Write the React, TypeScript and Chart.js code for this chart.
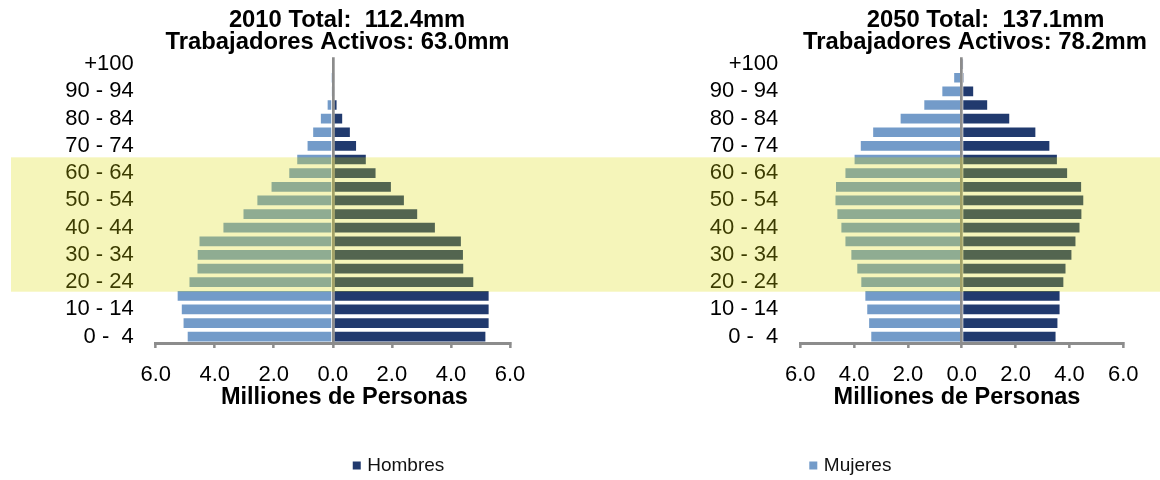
import { useEffect, useRef } from "react";
import { Chart, registerables } from "chart.js";

Chart.register(...registerables);

// ---------- data ----------
const AGE_GROUPS = [
  "0 -  4", "5 - 9", "10 - 14", "15 - 19", "20 - 24", "25 - 29", "30 - 34",
  "35 - 39", "40 - 44", "45 - 49", "50 - 54", "55 - 59", "60 - 64", "65 - 69",
  "70 - 74", "75 - 79", "80 - 84", "85 - 89", "90 - 94", "95 - 99", "+100",
];

// millions of people, youngest group first
const MEN_2010 = [5.2, 5.31, 5.31, 5.31, 4.79, 4.45, 4.44, 4.37, 3.49, 2.89, 2.44, 2.0, 1.48, 1.15, 0.82, 0.61, 0.35, 0.16, 0.02, 0.01, 0];
const WOMEN_2010 = [4.95, 5.09, 5.15, 5.29, 4.89, 4.62, 4.61, 4.55, 3.74, 3.06, 2.59, 2.11, 1.51, 1.24, 0.89, 0.7, 0.44, 0.21, 0.03, 0.01, 0];
const MEN_2050 = [3.52, 3.59, 3.67, 3.67, 3.81, 3.89, 4.11, 4.26, 4.41, 4.48, 4.55, 4.47, 3.95, 3.57, 3.29, 2.77, 1.8, 0.98, 0.46, 0.08, 0.01];
const WOMEN_2050 = [3.4, 3.48, 3.55, 3.62, 3.77, 3.92, 4.14, 4.36, 4.51, 4.66, 4.73, 4.71, 4.36, 4.02, 3.79, 3.33, 2.31, 1.43, 0.76, 0.32, 0.03];

const SERIES_NAMES = ["Hombres", "Mujeres"];
const TITLES_2010 = ["2010 Total:  112.4mm", "Trabajadores Activos: 63.0mm"];
const TITLES_2050 = ["2050 Total:  137.1mm", "Trabajadores Activos: 78.2mm"];
const AXIS_TITLE = "Milliones de Personas";
const X_MIN = -6;
const X_MAX = 6;
const X_STEP = 2;
// working-age highlight, expressed on the category index axis
const BAND_RANGE = [3.3, 13.16];

// ---------- style ----------
const FONT = "'Liberation Sans', Arial, Helvetica, sans-serif";
const NAVY = "#213A6E";
const LIGHT = "#739BC9";
const GRAY = "#8C8C8C";
const BAND_COLOR = "rgba(218,218,0,0.27)";
const H = 480;
const PLOT_TOP = 57.3;
const PLOT_BOTTOM = 343.5;

type Layout = {
  canvasX: number;
  width: number;
  yAxisWidth: number;
  padRight: number;
  bandX: [number, number];
  titleDx: [number, number];
  axisTitleDx: number;
  legendDx: number;
  legendSeries: number;
};

const LEFT: Layout = {
  canvasX: 0,
  width: 640,
  yAxisWidth: 155.7,
  padRight: 130,
  bandX: [11, 640],
  titleDx: [14.2, 4.7],
  axisTitleDx: 11.5,
  legendDx: 19.9,
  legendSeries: 0,
};

const RIGHT: Layout = {
  canvasX: 640,
  width: 520,
  yAxisWidth: 160.3,
  padRight: 36.7,
  bandX: [0, 520],
  titleDx: [23.7, 13.2],
  axisTitleDx: -4.8,
  legendDx: -152.5,
  legendSeries: 1,
};

const SERIES_COLORS = [NAVY, LIGHT];

function makeCaptions(titles: string[], L: Layout) {
  return {
    id: "captions",
    afterDraw(chart: any) {
      const { ctx, chartArea } = chart;
      const cx = (chartArea.left + chartArea.right) / 2;
      ctx.save();
      ctx.fillStyle = "#000";
      ctx.textAlign = "center";
      ctx.textBaseline = "middle";
      ctx.font = `bold 23.8px ${FONT}`;
      ctx.fillText(titles[0], cx + L.titleDx[0], 20.5);
      ctx.fillText(titles[1], cx + L.titleDx[1], 42.5);
      ctx.font = `bold 23.5px ${FONT}`;
      ctx.fillText(AXIS_TITLE, cx + L.axisTitleDx, 398);

      // legend entry
      const lx = cx + L.legendDx;
      ctx.fillStyle = SERIES_COLORS[L.legendSeries];
      ctx.fillRect(lx, 461.5, 8, 8);
      ctx.fillStyle = "#111";
      ctx.textAlign = "left";
      ctx.font = `19px ${FONT}`;
      ctx.fillText(SERIES_NAMES[L.legendSeries], lx + 14.5, 466);

      // translucent highlight band
      const ys = chart.scales.y;
      const y1 = ys.getPixelForValue(BAND_RANGE[0]);
      const y2 = ys.getPixelForValue(BAND_RANGE[1]);
      ctx.fillStyle = BAND_COLOR;
      ctx.fillRect(L.bandX[0], Math.min(y1, y2), L.bandX[1] - L.bandX[0], Math.abs(y2 - y1));
      ctx.restore();
    },
  };
}

function makeConfig(men: number[], women: number[], titles: string[], L: Layout): any {
  const barCommon = {
    borderColor: "rgba(255,255,255,0.9)",
    borderWidth: 1,
    barPercentage: 0.86,
    categoryPercentage: 1,
  };
  return {
    type: "bar",
    data: {
      labels: AGE_GROUPS,
      datasets: [
        { label: SERIES_NAMES[0], data: men, backgroundColor: NAVY, ...barCommon },
        { label: SERIES_NAMES[1], data: women.map((v) => -v), backgroundColor: LIGHT, ...barCommon },
      ],
    },
    options: {
      responsive: false,
      maintainAspectRatio: false,
      animation: false,
      indexAxis: "y",
      events: [],
      layout: { padding: { top: PLOT_TOP, bottom: 0, left: 0, right: L.padRight } },
      plugins: {
        legend: { display: false },
        title: { display: false },
        tooltip: { enabled: false },
      },
      scales: {
        x: {
          stacked: true,
          min: X_MIN,
          max: X_MAX,
          afterFit: (s: any) => {
            s.height = H - PLOT_BOTTOM;
          },
          ticks: {
            stepSize: X_STEP,
            autoSkip: false,
            maxRotation: 0,
            padding: 13.5,
            color: "#000",
            font: { family: FONT, size: 22 },
            callback: (v: number) => Math.abs(v).toFixed(1),
          },
          grid: {
            z: 1,
            color: (c: any) => (c.tick && c.tick.value === 0 ? GRAY : "rgba(0,0,0,0)"),
            lineWidth: 2.7,
            drawTicks: true,
            tickLength: 4.5,
            tickColor: GRAY,
            tickWidth: 2.5,
          },
          border: { display: true, color: GRAY, width: 3, z: 1 },
        },
        y: {
          stacked: true,
          reverse: true,
          afterFit: (s: any) => {
            s.width = L.yAxisWidth;
          },
          grid: { display: false, drawTicks: false },
          border: { display: false },
          ticks: {
            autoSkip: false,
            padding: 22,
            color: "#000",
            font: { family: FONT, size: 22 },
            callback: (v: number, i: number) => (i % 2 === 0 ? AGE_GROUPS[v] : ""),
          },
        },
      },
    },
    plugins: [makeCaptions(titles, L)],
  };
}

export default function App() {
  const leftRef = useRef<HTMLCanvasElement | null>(null);
  const rightRef = useRef<HTMLCanvasElement | null>(null);

  useEffect(() => {
    Chart.defaults.font.family = FONT;
    const a = new Chart(leftRef.current as HTMLCanvasElement, makeConfig(MEN_2010, WOMEN_2010, TITLES_2010, LEFT));
    const b = new Chart(rightRef.current as HTMLCanvasElement, makeConfig(MEN_2050, WOMEN_2050, TITLES_2050, RIGHT));
    return () => {
      a.destroy();
      b.destroy();
    };
  }, []);

  return (
    <div
      style={{
        position: "absolute",
        left: 0,
        top: 0,
        width: 1160,
        height: H,
        overflow: "hidden",
        background: "#fff",
      }}
    >
      <canvas
        ref={leftRef}
        width={LEFT.width}
        height={H}
        style={{ position: "absolute", left: LEFT.canvasX, top: 0 }}
      />
      <canvas
        ref={rightRef}
        width={RIGHT.width}
        height={H}
        style={{ position: "absolute", left: RIGHT.canvasX, top: 0 }}
      />
    </div>
  );
}
